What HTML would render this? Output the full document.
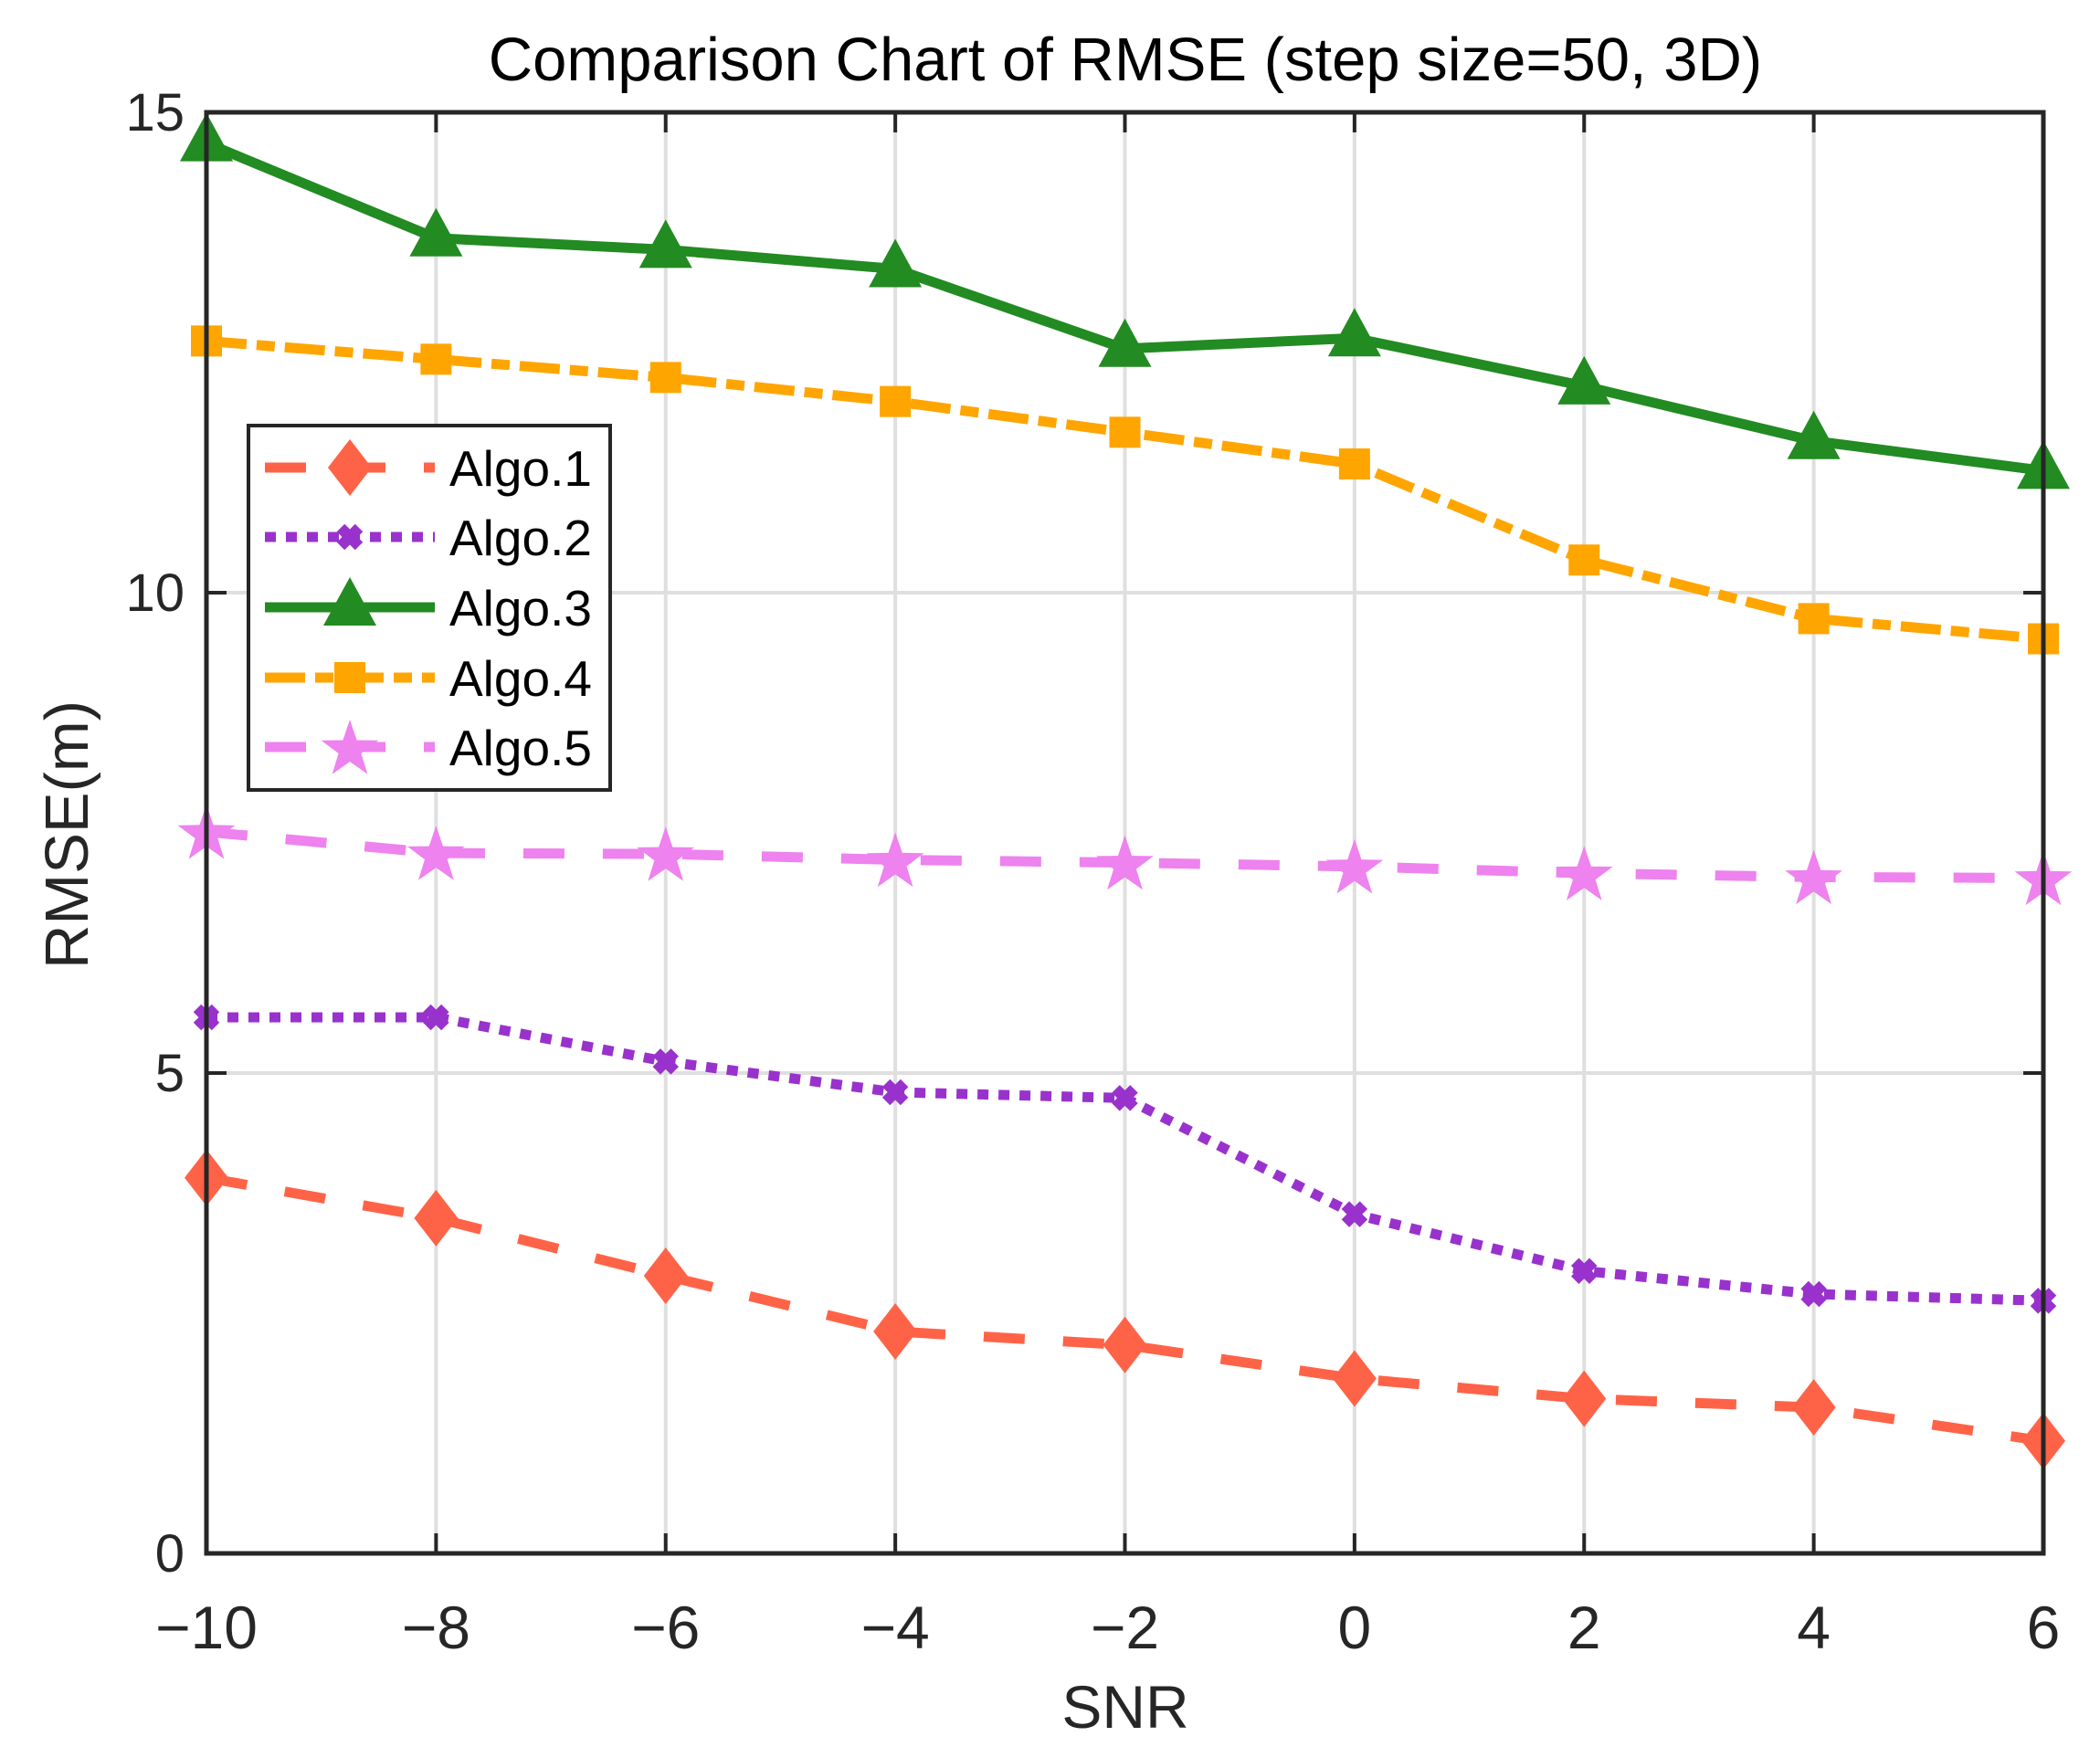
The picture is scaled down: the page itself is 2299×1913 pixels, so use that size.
<!DOCTYPE html>
<html><head><meta charset="utf-8"><style>
html,body{margin:0;padding:0;background:#fff;}
svg{display:block;font-family:"Liberation Sans",Arial,sans-serif;}
</style></head><body>
<svg id="chart" width="2299" height="1913" viewBox="0 0 2299 1913" xmlns="http://www.w3.org/2000/svg">
<rect width="2299" height="1913" fill="#fff"/>
<g id="grid"></g>
<g id="series"></g>
<g id="axes"></g>
<text x="1232" y="88" font-size="67" text-anchor="middle" fill="#000">Comparison Chart of RMSE (step size=50, 3D)</text>
<text x="1232" y="1892" font-size="66" text-anchor="middle" fill="#262626">SNR</text>
<text x="0" y="0" font-size="67" text-anchor="middle" fill="#262626" transform="translate(96,914) rotate(-90)">RMSE(m)</text>
<g id="legend"></g>
</svg>
<script>
const snr = [-10,-8,-6,-4,-2,0,2,4,6];
const algo1 = [3.91,3.49,2.89,2.31,2.17,1.82,1.61,1.52,1.17];
const algo2 = [5.58,5.58,5.12,4.80,4.74,3.53,2.94,2.70,2.63];
const algo3 = [14.68,13.69,13.57,13.37,12.54,12.65,12.15,11.58,11.27];
const algo4 = [12.62,12.43,12.24,11.99,11.67,11.34,10.34,9.73,9.52];
const algo5 = [7.51,7.29,7.28,7.22,7.19,7.15,7.08,7.04,7.03];
const seriesNames = ["Algo.1","Algo.2","Algo.3","Algo.4","Algo.5"];
const xTicks = [-10,-8,-6,-4,-2,0,2,4,6];
const yTicks = [0,5,10,15];

const L=226,R=2237,T=123,B=1701;
const xMin=-10,xMax=6,yMin=0,yMax=15;
function xs(v){return L+(v-xMin)/(xMax-xMin)*(R-L);}
function ys(v){return B-(v-yMin)/(yMax-yMin)*(B-T);}
const NS="http://www.w3.org/2000/svg";
function mk(tag,attrs,parent){const e=document.createElementNS(NS,tag);for(const k in attrs)e.setAttribute(k,attrs[k]);parent.appendChild(e);return e;}

const grid=document.getElementById('grid'), axes=document.getElementById('axes'), ser=document.getElementById('series'), leg=document.getElementById('legend');
xTicks.forEach(t=>{
  const g=mk('line',{x1:xs(t),x2:xs(t),y1:T,y2:B,stroke:'#dfdfdf','stroke-width':4},grid);
  
  
  const tk=mk('line',{x1:xs(t),x2:xs(t),y1:B,y2:B-22,stroke:'#262626','stroke-width':4},axes);
  
  
  const tk2=mk('line',{x1:xs(t),x2:xs(t),y1:T,y2:T+22,stroke:'#262626','stroke-width':4},axes);
  
  
  const lb=mk('text',{x:xs(t),y:1805,'font-size':66,'text-anchor':'middle',fill:'#262626'},axes);
  lb.textContent=(t<0?'\u2212'+(-t):String(t));
  
  
});
yTicks.forEach(t=>{
  const g=mk('line',{x1:L,x2:R,y1:ys(t),y2:ys(t),stroke:'#dfdfdf','stroke-width':4},grid);
  
  
  const tk=mk('line',{x1:L,x2:L+22,y1:ys(t),y2:ys(t),stroke:'#262626','stroke-width':4},axes);
  
  
  const tk2=mk('line',{x1:R,x2:R-22,y1:ys(t),y2:ys(t),stroke:'#262626','stroke-width':4},axes);
  
  
  const lb=mk('text',{x:202,y:ys(t)+20,'font-size':58,'text-anchor':'end',fill:'#262626'},axes);
  lb.textContent=String(t);
  
  
});
const frame=mk('rect',{x:L,y:T,width:R-L,height:B-T,fill:'none',stroke:'#262626','stroke-width':5},axes);



const styles=[
 {c:'#ff6347',dash:'45 42',m:'diamond'},
 {c:'#9932cc',dash:'12 11',m:'x'},
 {c:'#228b22',dash:'',m:'tri'},
 {c:'#ffa500',dash:'44 11 20 11',m:'square'},
 {c:'#ee82ee',dash:'45 42',m:'star'}
];
function marker(type,cx,cy,color,parent,scale){
  scale=scale||1;let e;
  if(type==='diamond'){const w=24*scale,h=31*scale;e=mk('polygon',{points:`${cx},${cy-h} ${cx+w},${cy} ${cx},${cy+h} ${cx-w},${cy}`,fill:color},parent);}
  else if(type==='tri'){const w=29*scale;e=mk('polygon',{points:`${cx},${cy-33*scale} ${cx+w},${cy+20*scale} ${cx-w},${cy+20*scale}`,fill:color},parent);}
  else if(type==='square'){const s=17*scale;e=mk('rect',{x:cx-s,y:cy-s,width:2*s,height:2*s,fill:color},parent);}
  else if(type==='x'){const s=10*scale;e=mk('path',{d:`M${cx-s},${cy-s}L${cx+s},${cy+s}M${cx-s},${cy+s}L${cx+s},${cy-s}`,stroke:color,'stroke-width':12*scale,fill:'none'},parent);}
  else {const pts=[];for(let i=0;i<10;i++){const r=(i%2?13:33)*scale;const a=-Math.PI/2+i*Math.PI/5;pts.push((cx+r*Math.cos(a)).toFixed(1)+','+(cy+r*Math.sin(a)+3*scale).toFixed(1));}e=mk('polygon',{points:pts.join(' '),fill:color},parent);}
  return e;
}
const data=[algo1,algo2,algo3,algo4,algo5];
data.forEach((vals,i)=>{
  const st=styles[i];
  const g=mk('g',{},ser);
  
  
  const d=vals.map((v,j)=>(j?'L':'M')+xs(snr[j]).toFixed(1)+','+ys(v).toFixed(1)).join('');
  const p=mk('path',{d:d,fill:'none',stroke:st.c,'stroke-width':11,'stroke-dasharray':st.dash,'stroke-linejoin':'round'},g);
  
  
  vals.forEach((v,j)=>{
    const m=marker(st.m,xs(snr[j]),ys(v),st.c,g,1);
    
    
  });
});
const lb=mk('rect',{x:272,y:466,width:396,height:399,fill:'#fff',stroke:'#262626','stroke-width':4},leg);


const rowsY=[512,588,665,742,818];
seriesNames.forEach((n,i)=>{
  const st=styles[i];const y=rowsY[i];
  const g=mk('g',{},leg);
  
  
  mk('line',{x1:290,x2:476,y1:y,y2:y,stroke:st.c,'stroke-width':11,'stroke-dasharray':st.dash},g);
  marker(st.m,383,y,st.c,g,1);
  const t=mk('text',{x:492,y:y+20,'font-size':55,fill:'#000'},g);
  t.textContent=n;
});
</script>
</body></html>
